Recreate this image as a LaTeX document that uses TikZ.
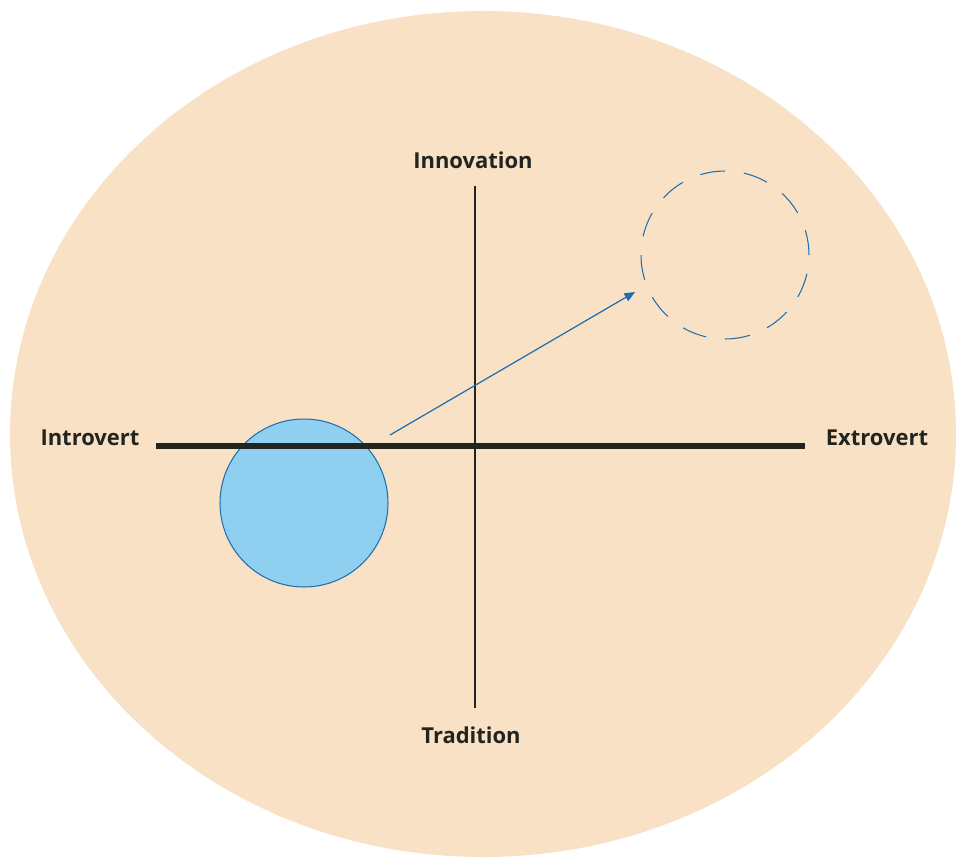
\documentclass[tikz,border=0pt]{standalone}
\usepackage{fontspec}
\setmainfont{Open Sans}
\usepackage{xcolor}
\usepackage{tikz}
\usetikzlibrary{arrows.meta, positioning}
\definecolor{peach}{HTML}{F9E1C6}
\definecolor{skyfill}{HTML}{8FD0F1}
\definecolor{skyline}{HTML}{1F6FAF}
\definecolor{axisdark}{HTML}{222420}

\tikzset{
  axislabel/.style={font=\fontsize{12.5}{14}\selectfont\bfseries, text=axisdark, inner sep=0pt},
  bubble/.style={circle, minimum size=3.36cm, inner sep=0pt}
}

\begin{document}
\begin{tikzpicture}[x=0.02cm, y=-0.02cm]
    \useasboundingbox (0,0) rectangle (956,858);
    \fill[peach] (483,434) ellipse [x radius=473, y radius=423];

    \node[axislabel] (innov) at (473,160) {Innovation};
    \node[axislabel] (trad) at (471,735) {Tradition};
    \node[axislabel] (intro) at (90,438) {Introvert};
    \node[axislabel] (extro) at (877,438) {Extrovert};

    \coordinate (vtop) at (475,186);
    \coordinate (vbot) at (475,708);
    \coordinate (hleft) at (156,446);
    \coordinate (hright) at (805,446);

    \node[bubble, fill=skyfill, draw=skyline, line width=0.6pt] (now) at (304,503) {};
    \node[bubble, draw=skyline, line width=0.6pt, dash pattern=on 0.5cm off 0.38cm] (goal) at (725,255) {};

    \draw[axisdark, line width=1.5pt] (vtop) -- (vbot);
    \draw[axisdark, line width=3pt] (hleft) -- (hright);

    \coordinate (start) at (390,435);
    \coordinate (tip) at (635,292);
    \draw[skyline, line width=0.7pt, -{Triangle[length=6pt, width=5pt]}] (start) -- (tip);
\end{tikzpicture}
\end{document}
